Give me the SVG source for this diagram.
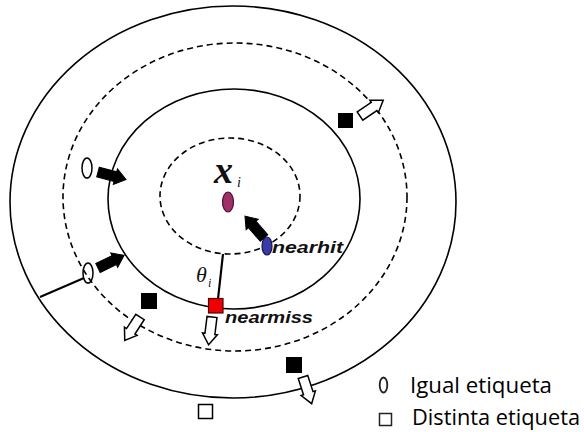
<svg xmlns="http://www.w3.org/2000/svg" xmlns:xlink="http://www.w3.org/1999/xlink" width="584" height="432" viewBox="0 0 584 432">
<style>
.ring{fill:none;stroke:#000;stroke-width:1.6}
.dash{fill:none;stroke:#000;stroke-width:1.6;stroke-dasharray:6 4}
.mark{fill:#fff;stroke:#000;stroke-width:1.5}
.sq{fill:#000}
.fa{fill:#000;stroke:#000;stroke-width:1}
.oa{fill:#fff;stroke:#000;stroke-width:1.5;stroke-linejoin:miter}
.lbl{font-family:"Liberation Sans",Arial,sans-serif;font-style:italic;font-weight:bold;fill:#111}
.math{font-family:"Liberation Serif","Times New Roman",serif;font-style:italic;fill:#111}
.leg{font-family:"Open Sans","Liberation Sans",Arial,sans-serif;font-size:22px;fill:#000}
</style>
<defs>
<path id="fa" d="M0,-5 H18 V-8 L29,0 L18,8 V5 H0 Z"/>
<path id="oa" d="M0,-5 H17 V-7.5 L28,0 L17,7.5 V5 H0 Z"/>
</defs>
<rect width="584" height="432" fill="#fff"/>
<g id="rings">
<ellipse class="ring" cx="233" cy="202" rx="223" ry="196"/>
<ellipse class="dash" cx="235" cy="197" rx="172" ry="154"/>
<ellipse class="ring" cx="234" cy="199" rx="126" ry="110"/>
<ellipse class="dash" cx="230" cy="196" rx="70" ry="58"/>
</g>
<g id="connectors">
<line x1="84" y1="278" x2="40" y2="297" stroke="#000" stroke-width="2"/>
<line x1="223" y1="254" x2="218" y2="299" stroke="#000" stroke-width="2.2"/>
<use href="#fa" class="fa" transform="translate(98,172) rotate(15)"/>
<use href="#fa" class="fa" transform="translate(98,268) rotate(-26)"/>
<use href="#fa" class="fa" transform="translate(264,238) rotate(-131)"/>
<use href="#oa" class="oa" transform="translate(360,116) rotate(-34)"/>
<use href="#oa" class="oa" transform="translate(140,317) rotate(123)"/>
<use href="#oa" class="oa" transform="translate(212,317) rotate(97)"/>
<use href="#oa" class="oa" transform="translate(303,377) rotate(72)"/>
</g>
<g id="same1"><ellipse class="mark" cx="87" cy="168" rx="5" ry="10"/></g>
<g id="same2"><ellipse cx="88" cy="273" rx="5" ry="10" fill="none" stroke="#000" stroke-width="1.5"/></g>
<g id="diff1"><rect class="sq" x="338" y="113" width="15" height="15"/></g>
<g id="diff2"><rect class="sq" x="141" y="293" width="16" height="16"/></g>
<g id="diff3"><rect class="sq" x="286" y="357" width="16" height="16"/></g>
<g id="diff4"><rect x="198.5" y="404.5" width="14" height="14" fill="#fff" stroke="#000" stroke-width="1.5"/></g>
<g id="xi">
<text class="math" x="214" y="183" font-size="38" font-weight="bold">x</text>
<text class="math" x="237" y="187" font-size="14">i</text>
<ellipse cx="228" cy="202" rx="5.5" ry="10" fill="#a0306a" stroke="#4a1030" stroke-width="1.2"/>
</g>
<g id="nearhit">
<ellipse cx="267" cy="246" rx="5" ry="9" fill="#3a3aaa" stroke="#14144a" stroke-width="1.2"/>
<text class="lbl" x="272" y="253" font-size="17" textLength="71" lengthAdjust="spacingAndGlyphs">nearhit</text>
</g>
<g id="theta">
<text class="math" x="196" y="282" font-size="22">θ</text>
<text class="math" x="208" y="287" font-size="12">i</text>
</g>
<g id="nearmiss">
<rect x="208.5" y="298.5" width="14.5" height="14.5" fill="#ee0000" stroke="#550000" stroke-width="1.2"/>
<text class="lbl" x="225" y="323" font-size="17" textLength="88" lengthAdjust="spacingAndGlyphs">nearmiss</text>
</g>
<g id="legend">
<ellipse cx="383.5" cy="385" rx="3.8" ry="7.5" fill="none" stroke="#222" stroke-width="1.8"/>
<text class="leg" x="410" y="393" textLength="142" lengthAdjust="spacingAndGlyphs">Igual etiqueta</text>
<rect x="379.5" y="413.5" width="12" height="12" fill="none" stroke="#222" stroke-width="1.5"/>
<text class="leg" x="412" y="425" textLength="168" lengthAdjust="spacingAndGlyphs">Distinta etiqueta</text>
</g>
</svg>
